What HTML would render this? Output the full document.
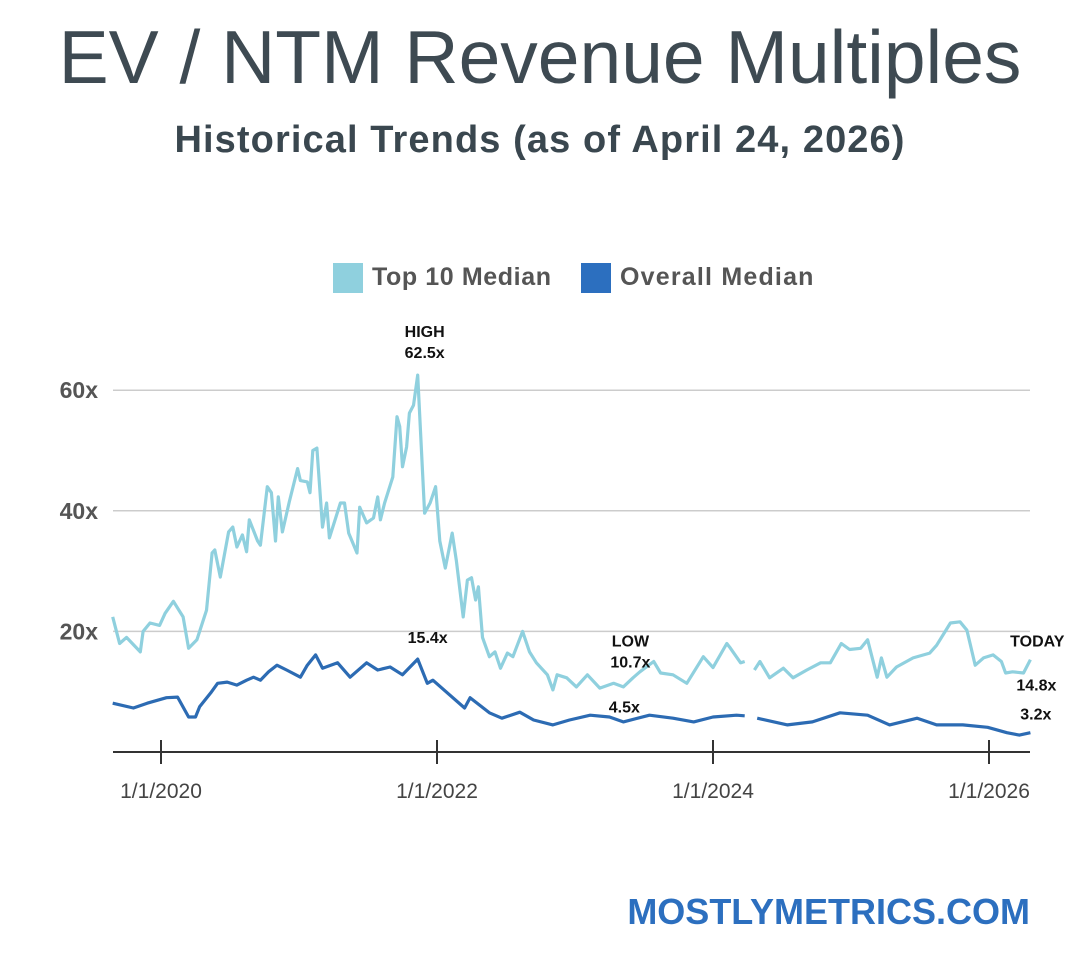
<!DOCTYPE html>
<html><head><meta charset="utf-8">
<style>
html,body{margin:0;padding:0;background:#fff;}
body{width:1080px;height:958px;overflow:hidden;position:relative;font-family:"Liberation Sans",sans-serif;}
.t{position:absolute;white-space:nowrap;}
</style></head>
<body>
<div class="t" style="left:0;width:1080px;text-align:center;top:14px;font-size:75px;color:#3e4a52;font-weight:normal;">EV / NTM Revenue Multiples</div>
<div class="t" style="left:0;width:1080px;text-align:center;top:119px;font-size:38px;color:#3a474f;font-weight:bold;letter-spacing:1.1px;">Historical Trends (as of April 24, 2026)</div>
<div style="position:absolute;left:333px;top:263px;width:30px;height:30px;background:#8fd0de;"></div>
<div class="t" style="left:372px;top:263px;font-size:25px;font-weight:bold;color:#555;letter-spacing:0.6px;">Top 10 Median</div>
<div style="position:absolute;left:581px;top:263px;width:30px;height:30px;background:#2c6fbf;"></div>
<div class="t" style="left:620px;top:263px;font-size:25px;font-weight:bold;color:#555;letter-spacing:1.2px;">Overall Median</div>
<div class="t" style="right:50px;top:891px;font-size:36px;font-weight:bold;color:#2c6fbf;">MOSTLYMETRICS.COM</div>
<svg id="chart" width="1080" height="958" style="position:absolute;left:0;top:0;"></svg>
<script>
const top10Dates=[2019.65,2019.70,2019.75,2019.85,2019.87,2019.92,2019.99,2020.03,2020.09,2020.16,2020.20,2020.26,2020.33,2020.37,2020.39,2020.43,2020.49,2020.52,2020.55,2020.59,2020.62,2020.64,2020.70,2020.72,2020.77,2020.80,2020.83,2020.85,2020.88,2020.93,2020.99,2021.01,2021.06,2021.08,2021.10,2021.13,2021.17,2021.20,2021.22,2021.30,2021.33,2021.36,2021.42,2021.44,2021.49,2021.54,2021.57,2021.59,2021.62,2021.68,2021.71,2021.73,2021.75,2021.78,2021.80,2021.83,2021.86,2021.91,2021.95,2021.99,2022.02,2022.06,2022.11,2022.14,2022.19,2022.22,2022.25,2022.28,2022.30,2022.33,2022.38,2022.42,2022.46,2022.51,2022.55,2022.62,2022.67,2022.72,2022.80,2022.84,2022.87,2022.94,2023.01,2023.09,2023.18,2023.28,2023.35,2023.42,2023.47,2023.57,2023.62,2023.71,2023.81,2023.93,2024.00,2024.10,2024.12,2024.20,2024.23,2024.26,2024.30,2024.34,2024.41,2024.51,2024.58,2024.68,2024.78,2024.85,2024.93,2024.99,2025.07,2025.12,2025.19,2025.22,2025.26,2025.33,2025.45,2025.57,2025.62,2025.72,2025.79,2025.84,2025.90,2025.96,2026.03,2026.09,2026.12,2026.17,2026.25,2026.30];
const top10Values=[22.4,18,19,16.6,20,21.4,21,23,25,22.4,17.2,18.6,23.5,33,33.5,29,36.5,37.3,34,36,33.2,38.5,35,34.3,44,43,35,42.3,36.5,41.5,47,45,44.8,43,50,50.4,37.3,41.3,35.5,41.3,41.3,36.3,33,40.6,38,38.8,42.3,38.5,41.3,45.6,55.6,54,47.3,50.6,56.2,57.5,62.5,39.6,41.3,44,35,30.5,36.3,31.8,22.4,28.5,28.9,25.2,27.4,19,15.8,16.6,13.9,16.4,15.8,20,16.6,14.8,12.8,10.3,12.8,12.3,10.8,12.8,10.6,11.4,10.8,12.3,13.3,15,13.1,12.8,11.4,15.8,14,18,17.4,14.8,15,null,13.6,15,12.3,13.9,12.3,13.6,14.8,14.8,18,17,17.2,18.6,12.4,15.6,12.4,14.1,15.6,16.4,17.7,21.4,21.6,20.2,14.4,15.6,16.1,15,13.1,13.3,13.1,15.3];
const overallDates=[2019.65,2019.80,2019.90,2020.04,2020.12,2020.20,2020.25,2020.28,2020.36,2020.41,2020.48,2020.55,2020.62,2020.67,2020.72,2020.78,2020.84,2020.91,2021.01,2021.06,2021.12,2021.17,2021.28,2021.37,2021.49,2021.57,2021.66,2021.75,2021.86,2021.93,2021.97,2022.09,2022.20,2022.24,2022.38,2022.47,2022.60,2022.70,2022.84,2022.96,2023.11,2023.25,2023.35,2023.54,2023.71,2023.86,2024.00,2024.17,2024.23,2024.27,2024.32,2024.54,2024.72,2024.92,2025.12,2025.28,2025.48,2025.62,2025.81,2025.99,2026.13,2026.22,2026.30];
const overallValues=[8.1,7.3,8.1,9,9.1,5.8,5.8,7.5,9.8,11.4,11.6,11.1,11.9,12.4,11.9,13.3,14.4,13.6,12.4,14.4,16.1,13.9,14.8,12.4,14.8,13.6,14.1,12.8,15.4,11.4,11.9,9.5,7.3,9,6.5,5.6,6.6,5.3,4.5,5.3,6.1,5.8,5,6.1,5.6,5,5.8,6.1,6,null,5.6,4.5,5,6.5,6.1,4.5,5.6,4.5,4.5,4.1,3.2,2.8,3.2];
const yTicks=[20,40,60];
const yTickLabels=["20x","40x","60x"];
const xTicks=[2020,2022,2024,2026];
const xTickLabels=["1/1/2020","1/1/2022","1/1/2024","1/1/2026"];
const annotations=[
 {lines:["HIGH","62.5x"],date:2021.86,value:62.5,dy:-17,anchor:"middle",dx:7},
 {lines:["15.4x"],date:2021.86,value:15.4,dy:-16,anchor:"middle",dx:10},
 {lines:["LOW","10.7x"],date:2023.30,value:10.7,dy:-20,anchor:"middle",dx:14},
 {lines:["4.5x"],date:2023.35,value:6.2,dy:-2,anchor:"middle",dx:1},
 {lines:["TODAY"],date:2026.30,value:15.3,dy:-13,anchor:"end",dx:34},
 {lines:["14.8x"],date:2026.30,value:12.5,dy:14,anchor:"end",dx:26},
 {lines:["3.2x"],date:2026.30,value:3.2,dy:-13,anchor:"end",dx:21}
];
const NS="http://www.w3.org/2000/svg";
const svg=document.getElementById('chart');
const X0=113,X1=1030,Y0=752;
function xs(d){return 161+(d-2020)*138;}
function ys(v){return Y0-v*6.03;}
function mk(tag,attrs){const e=document.createElementNS(NS,tag);for(const k in attrs)e.setAttribute(k,attrs[k]);svg.appendChild(e);return e;}
yTicks.forEach((t,i)=>{
 const g=mk('line',{x1:X0,x2:X1,y1:ys(t),y2:ys(t),stroke:'#cccccc','stroke-width':1.5});
 
 
 const l=mk('text',{x:98,y:ys(t)+8,'text-anchor':'end','font-size':23,'font-weight':'bold',fill:'#555','font-family':'Liberation Sans, sans-serif'});
 l.textContent=yTickLabels[i];
 
 
});
const ax=mk('line',{x1:X0,x2:X1,y1:Y0,y2:Y0,stroke:'#333','stroke-width':2});


xTicks.forEach((t,i)=>{
 const tk=mk('line',{x1:xs(t),x2:xs(t),y1:Y0-12,y2:Y0+12,stroke:'#333','stroke-width':2});
 
 
 const l=mk('text',{x:xs(t),y:798,'text-anchor':'middle','font-size':21,fill:'#444','font-family':'Liberation Sans, sans-serif'});
 l.textContent=xTickLabels[i];
 
 
});
function pathFor(dates,vals){let d='',pen=false;for(let i=0;i<dates.length;i++){if(vals[i]==null){pen=false;continue;}d+=(pen?'L':'M')+xs(dates[i]).toFixed(1)+','+ys(vals[i]).toFixed(1);pen=true;}return d;}
const p1=mk('path',{d:pathFor(top10Dates,top10Values),fill:'none',stroke:'#8fd0de','stroke-width':3.2,'stroke-linejoin':'round'});


const p2=mk('path',{d:pathFor(overallDates,overallValues),fill:'none',stroke:'#2c6bb3','stroke-width':3.2,'stroke-linejoin':'round'});


annotations.forEach(a=>{
 a.lines.forEach((s,j)=>{
  const t=mk('text',{x:xs(a.date)+(a.dx||0),y:ys(a.value)+a.dy+(j-(a.lines.length-1))*21,'text-anchor':a.anchor,'font-size':16,'font-weight':'bold',fill:'#111','font-family':'Liberation Sans, sans-serif'});
  t.textContent=s;
  
  
 });
});
</script>
</body></html>
